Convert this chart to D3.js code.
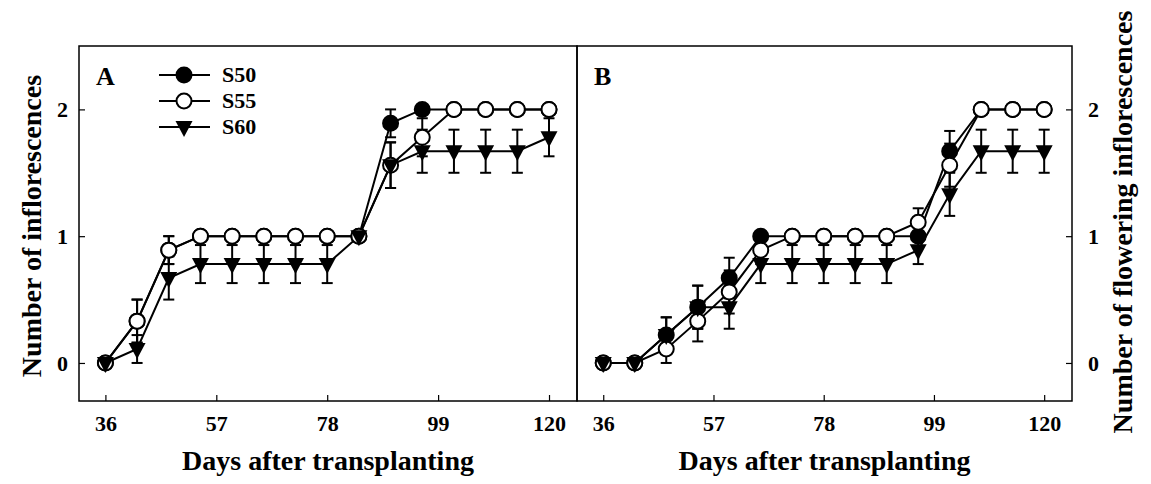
<!DOCTYPE html>
<html lang="en">
<head>
<meta charset="UTF-8" />
<title>Inflorescences</title>
<script src="https://d3js.org/d3.v7.min.js"></script>
<style>
  html, body { margin: 0; padding: 0; background: #fff; }
  svg { display: block; }
  svg text { font-family: "Liberation Serif", "Times New Roman", serif; font-weight: bold; fill: #000; }
</style>
</head>
<body>
<svg width="1151" height="484"></svg>
<script>
  const days = [36, 42, 48, 54, 60, 66, 72, 78, 84, 90, 96, 102, 108, 114, 120];
  const xTicks = [36, 57, 78, 99, 120];
  const yTicks = [0, 1, 2];
  const seriesNames = ["S50", "S55", "S60"];

  // panel A - number of inflorescences
  const aS50 = [0, 0.33, 0.89, 1, 1, 1, 1, 1, 1, 1.89, 2, 2, 2, 2, 2];
  const aS50Err = [0, 0.17, 0.11, 0, 0, 0, 0, 0, 0, 0.11, 0, 0, 0, 0, 0];
  const aS55 = [0, 0.33, 0.89, 1, 1, 1, 1, 1, 1, 1.56, 1.78, 2, 2, 2, 2];
  const aS55Err = [0, 0.17, 0.11, 0, 0, 0, 0, 0, 0, 0.18, 0.15, 0, 0, 0, 0];
  const aS60 = [0, 0.11, 0.67, 0.78, 0.78, 0.78, 0.78, 0.78, 1, 1.56, 1.67, 1.67, 1.67, 1.67, 1.78];
  const aS60Err = [0, 0.11, 0.17, 0.15, 0.15, 0.15, 0.15, 0.15, 0, 0.18, 0.17, 0.17, 0.17, 0.17, 0.15];

  // panel B - number of flowering inflorescences
  const bS50 = [0, 0, 0.22, 0.44, 0.67, 1, 1, 1, 1, 1, 1, 1.67, 2, 2, 2];
  const bS50Err = [0, 0, 0.14, 0.17, 0.16, 0, 0, 0, 0, 0, 0, 0.16, 0, 0, 0];
  const bS55 = [0, 0, 0.11, 0.33, 0.56, 0.89, 1, 1, 1, 1, 1.11, 1.56, 2, 2, 2];
  const bS55Err = [0, 0, 0.11, 0.16, 0.17, 0.11, 0, 0, 0, 0, 0.11, 0.17, 0, 0, 0];
  const bS60 = [0, 0, 0.22, 0.44, 0.44, 0.78, 0.78, 0.78, 0.78, 0.78, 0.89, 1.33, 1.67, 1.67, 1.67];
  const bS60Err = [0, 0, 0.14, 0.17, 0.17, 0.15, 0.15, 0.15, 0.15, 0.15, 0.11, 0.17, 0.17, 0.17, 0.17];

  const svg = d3.select("svg");
  const plotTop = 46, plotBottom = 401;
  const y = d3.scaleLinear().domain([-0.3, 2.5]).range([plotBottom, plotTop]);

  const panels = [
    { label: "A", x0: 79, x1: 577, series: [[aS50, aS50Err], [aS55, aS55Err], [aS60, aS60Err]] },
    { label: "B", x0: 577, x1: 1072, series: [[bS50, bS50Err], [bS55, bS55Err], [bS60, bS60Err]] }
  ];

  const triPath = "M-8.5,-6L8.5,-6L0,10Z";

  function drawMarker(g, i, cx, cy) {
    if (i === 2) {
      g.append("path").attr("d", triPath)
        .attr("transform", `translate(${cx},${cy})`)
        .attr("fill", "#000");
    } else {
      g.append("circle").attr("cx", cx).attr("cy", cy).attr("r", 7.5)
        .attr("fill", i === 0 ? "#000" : "#fff")
        .attr("stroke", "#000").attr("stroke-width", 2);
    }
  }

  panels.forEach((p, pi) => {
    const x = d3.scaleLinear().domain([31, 125.3]).range([p.x0, p.x1]);
    const g = svg.append("g");

    // frame
    g.append("rect").attr("x", p.x0).attr("y", plotTop)
      .attr("width", p.x1 - p.x0).attr("height", plotBottom - plotTop)
      .attr("fill", "none").attr("stroke", "#000").attr("stroke-width", 1.5);

    // x axis
    const xa = g.append("g").attr("transform", `translate(0,${plotBottom})`)
      .call(d3.axisBottom(x).tickValues(xTicks).tickFormat(d3.format("d"))
        .tickSizeInner(-6).tickSizeOuter(0).tickPadding(14));
    xa.attr("font-family", null).attr("font-size", null);
    xa.select(".domain").remove();
    xa.selectAll("text").style("font-size", "22px");
    xa.selectAll("line").attr("stroke-width", 1.2);

    // y axis
    const yAxis = pi === 0 ? d3.axisLeft(y).tickPadding(11) : d3.axisRight(y).tickPadding(16);
    const ya = g.append("g").attr("transform", `translate(${pi === 0 ? p.x0 : p.x1},0)`)
      .call(yAxis.tickValues(yTicks).tickFormat(d3.format("d")).tickSizeInner(-6).tickSizeOuter(0));
    ya.attr("font-family", null).attr("font-size", null);
    ya.select(".domain").remove();
    ya.selectAll("text").style("font-size", "22px");
    ya.selectAll("line").attr("stroke-width", 1.2);

    // x title
    g.append("text").attr("x", (p.x0 + p.x1) / 2).attr("y", 470)
      .attr("text-anchor", "middle").style("font-size", "28px")
      .text("Days after transplanting");

    // panel letter
    g.append("text").attr("x", p.x0 + 17).attr("y", 85)
      .style("font-size", "26px").text(p.label);

    const line = d3.line().x((d, i) => x(days[i])).y(d => y(d));

    // error bars
    p.series.forEach(([vals, errs]) => {
      vals.forEach((v, i) => {
        const e = errs[i];
        if (!e) return;
        const cx = x(days[i]);
        g.append("line").attr("x1", cx).attr("x2", cx)
          .attr("y1", y(v - e)).attr("y2", y(v + e))
          .attr("stroke", "#000").attr("stroke-width", 2);
        [v - e, v + e].forEach(t => {
          g.append("line").attr("x1", cx - 5.5).attr("x2", cx + 5.5)
            .attr("y1", y(t)).attr("y2", y(t))
            .attr("stroke", "#000").attr("stroke-width", 2);
        });
      });
    });

    // lines
    p.series.forEach(([vals]) => {
      g.append("path").datum(vals).attr("d", line)
        .attr("fill", "none").attr("stroke", "#000").attr("stroke-width", 2);
    });

    // markers
    p.series.forEach(([vals], si) => {
      vals.forEach((v, i) => drawMarker(g, si, x(days[i]), y(v)));
    });
  });

  // legend in panel A
  const legend = svg.append("g");
  seriesNames.forEach((name, i) => {
    const ly = 75 + i * 26;
    legend.append("line").attr("x1", 159).attr("x2", 210).attr("y1", ly).attr("y2", ly)
      .attr("stroke", "#000").attr("stroke-width", 2);
    drawMarker(legend, i, 184, ly);
    legend.append("text").attr("x", 222).attr("y", ly + 7)
      .style("font-size", "22px").text(name);
  });

  // y titles
  svg.append("text").attr("transform", "translate(41,226) rotate(-90)")
    .attr("text-anchor", "middle").style("font-size", "28px")
    .text("Number of inflorescences");
  svg.append("text").attr("transform", "translate(1132,222) rotate(-90)")
    .attr("text-anchor", "middle").style("font-size", "28px")
    .text("Number of flowering inflorescences");
</script>
</body>
</html>
